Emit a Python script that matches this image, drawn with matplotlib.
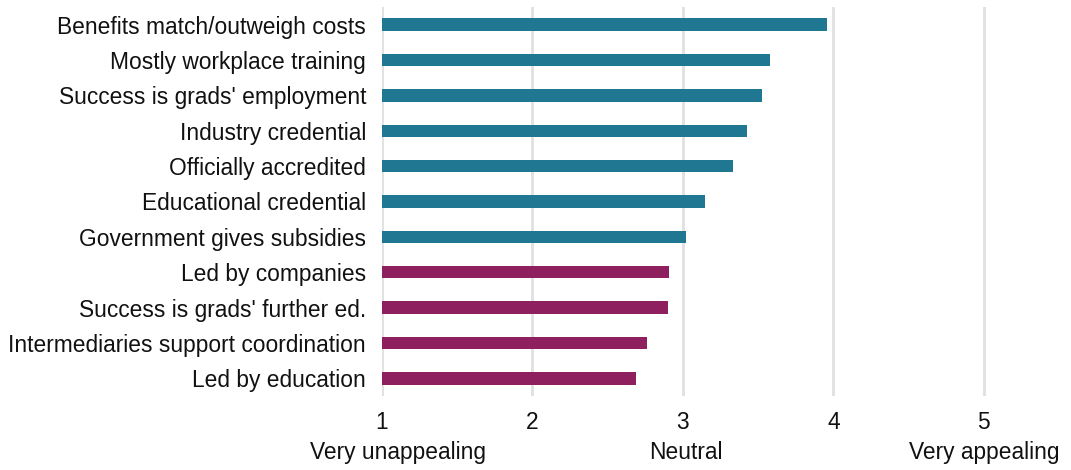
import matplotlib
matplotlib.use("Agg")
import matplotlib.pyplot as plt
from matplotlib.transforms import offset_copy

categories = [
    "Benefits match/outweigh costs",
    "Mostly workplace training",
    "Success is grads' employment",
    "Industry credential",
    "Officially accredited",
    "Educational credential",
    "Government gives subsidies",
    "Led by companies",
    "Success is grads' further ed.",
    "Intermediaries support coordination",
    "Led by education",
]
values = [3.955, 3.578, 3.527, 3.425, 3.33, 3.146, 3.02, 2.907, 2.90, 2.76, 2.688]
groups = ["teal"] * 7 + ["magenta"] * 4
group_colors = {"teal": "#1f7791", "magenta": "#8e2060"}
tick_values = [1, 2, 3, 4, 5]
scale_labels = {1: "Very unappealing", 3: "Neutral", 5: "Very appealing"}

plt.rcParams["font.family"] = ["Liberation Sans", "DejaVu Sans"]
FS = 16.4

fig = plt.figure(figsize=(10.71, 4.70), dpi=100)
ax = fig.add_axes([382 / 1071, 1 - 396 / 470, (1059 - 382) / 1071, (396 - 7) / 470])

ypos = list(range(len(categories)))
base = 1
ax.barh(ypos, [v - base for v in values], left=base, height=0.35,
        color=[group_colors[g] for g in groups], zorder=3)

ax.set_xlim(1, 5.5)
ax.set_ylim(len(categories) - 0.5, -0.5)
ax.set_yticks(ypos)
ax.set_yticklabels(categories, fontsize=FS, color="#111111")
ax.set_xticks(tick_values)
ax.set_xticklabels([str(t) for t in tick_values], fontsize=FS, color="#111111")
ax.tick_params(axis="both", length=0)
ax.tick_params(axis="y", pad=11.5)
ax.tick_params(axis="x", pad=11)
ax.grid(axis="x", color="#e0e0e0", linewidth=2, zorder=0)
for s in ax.spines.values():
    s.set_visible(False)

label_shift_px = {1: 16, 3: 3, 5: 0}
for t, lab in scale_labels.items():
    tr = offset_copy(ax.get_xaxis_transform(), fig=fig, x=label_shift_px[t], y=0, units="dots")
    ax.text(t, (396 - 459) / 389, lab, transform=tr,
            ha="center", va="baseline", fontsize=FS, color="#111111")

fig.savefig("out.png", dpi=100, facecolor="white")
